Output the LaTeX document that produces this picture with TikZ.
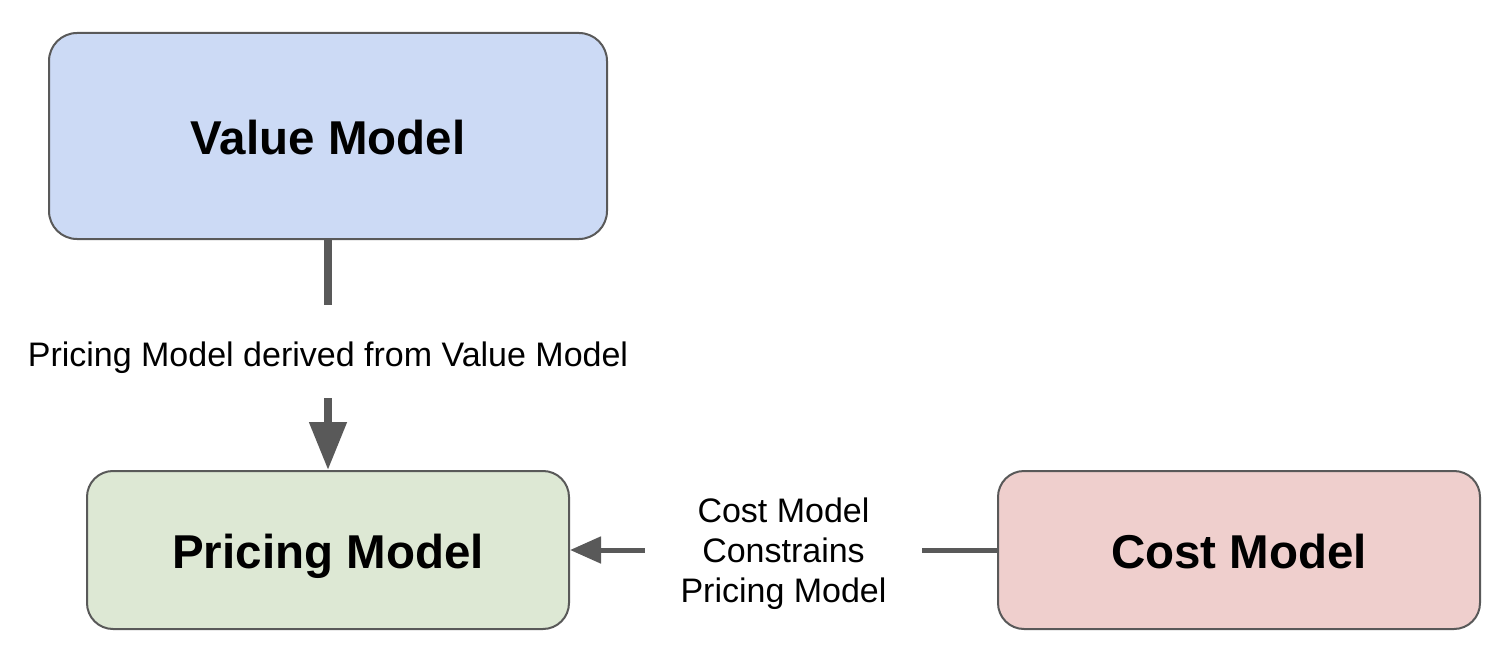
\documentclass[tikz,border=0pt]{standalone}
\usepackage{fontspec}
\setmainfont{Liberation Sans}
\usetikzlibrary{arrows.meta}
\definecolor{edgegray}{HTML}{595959}
\definecolor{blueFill}{HTML}{CCDAF5}
\definecolor{greenFill}{HTML}{DDE8D4}
\definecolor{redFill}{HTML}{EFCFCD}
\tikzset{
  modelbox/.style={draw=edgegray, line width=2pt, rounded corners=28pt, inner sep=0pt,
    text height=37pt, text depth=0pt,
    font=\fontsize{47.5}{56}\selectfont\bfseries, text=black},
  lab/.style={inner sep=0pt, align=center, font=\fontsize{34}{40}\selectfont, text=black},
  conn/.style={draw=edgegray, line width=#1},
}
\begin{document}
\begin{tikzpicture}[x=1pt, y=-1pt]
\useasboundingbox (0,0) rectangle (1508,658);
\node[modelbox, fill=blueFill, minimum width=558pt, minimum height=206pt] (value) at (328,136) {Value Model};
\node[modelbox, fill=greenFill, minimum width=482pt, minimum height=158pt, rounded corners=26pt] (pricing) at (328,550) {Pricing Model};
\node[modelbox, fill=redFill, minimum width=482pt, minimum height=158pt, rounded corners=26pt] (cost) at (1239,550) {Cost Model};
\node[lab, minimum height=93pt, text height=29pt, text depth=0pt] (lab1) at (328,351.5) {Pricing Model derived from Value Model};
\node[lab, minimum width=277pt] (lab2) at (783.5,554) {Cost Model\\Constrains\\Pricing Model};
\draw[conn=8pt] (value.south) -- (lab1.north);
\draw[conn=8pt, -{Triangle[length=48pt,width=36pt]}] (lab1.south) -- (pricing.north);
\draw[conn=5pt] (cost.west) -- (lab2.east |- cost.west);
\draw[conn=5pt, -{Triangle[length=31pt,width=26pt]}] (lab2.west |- pricing.east) -- (pricing.east);
\end{tikzpicture}
\end{document}
